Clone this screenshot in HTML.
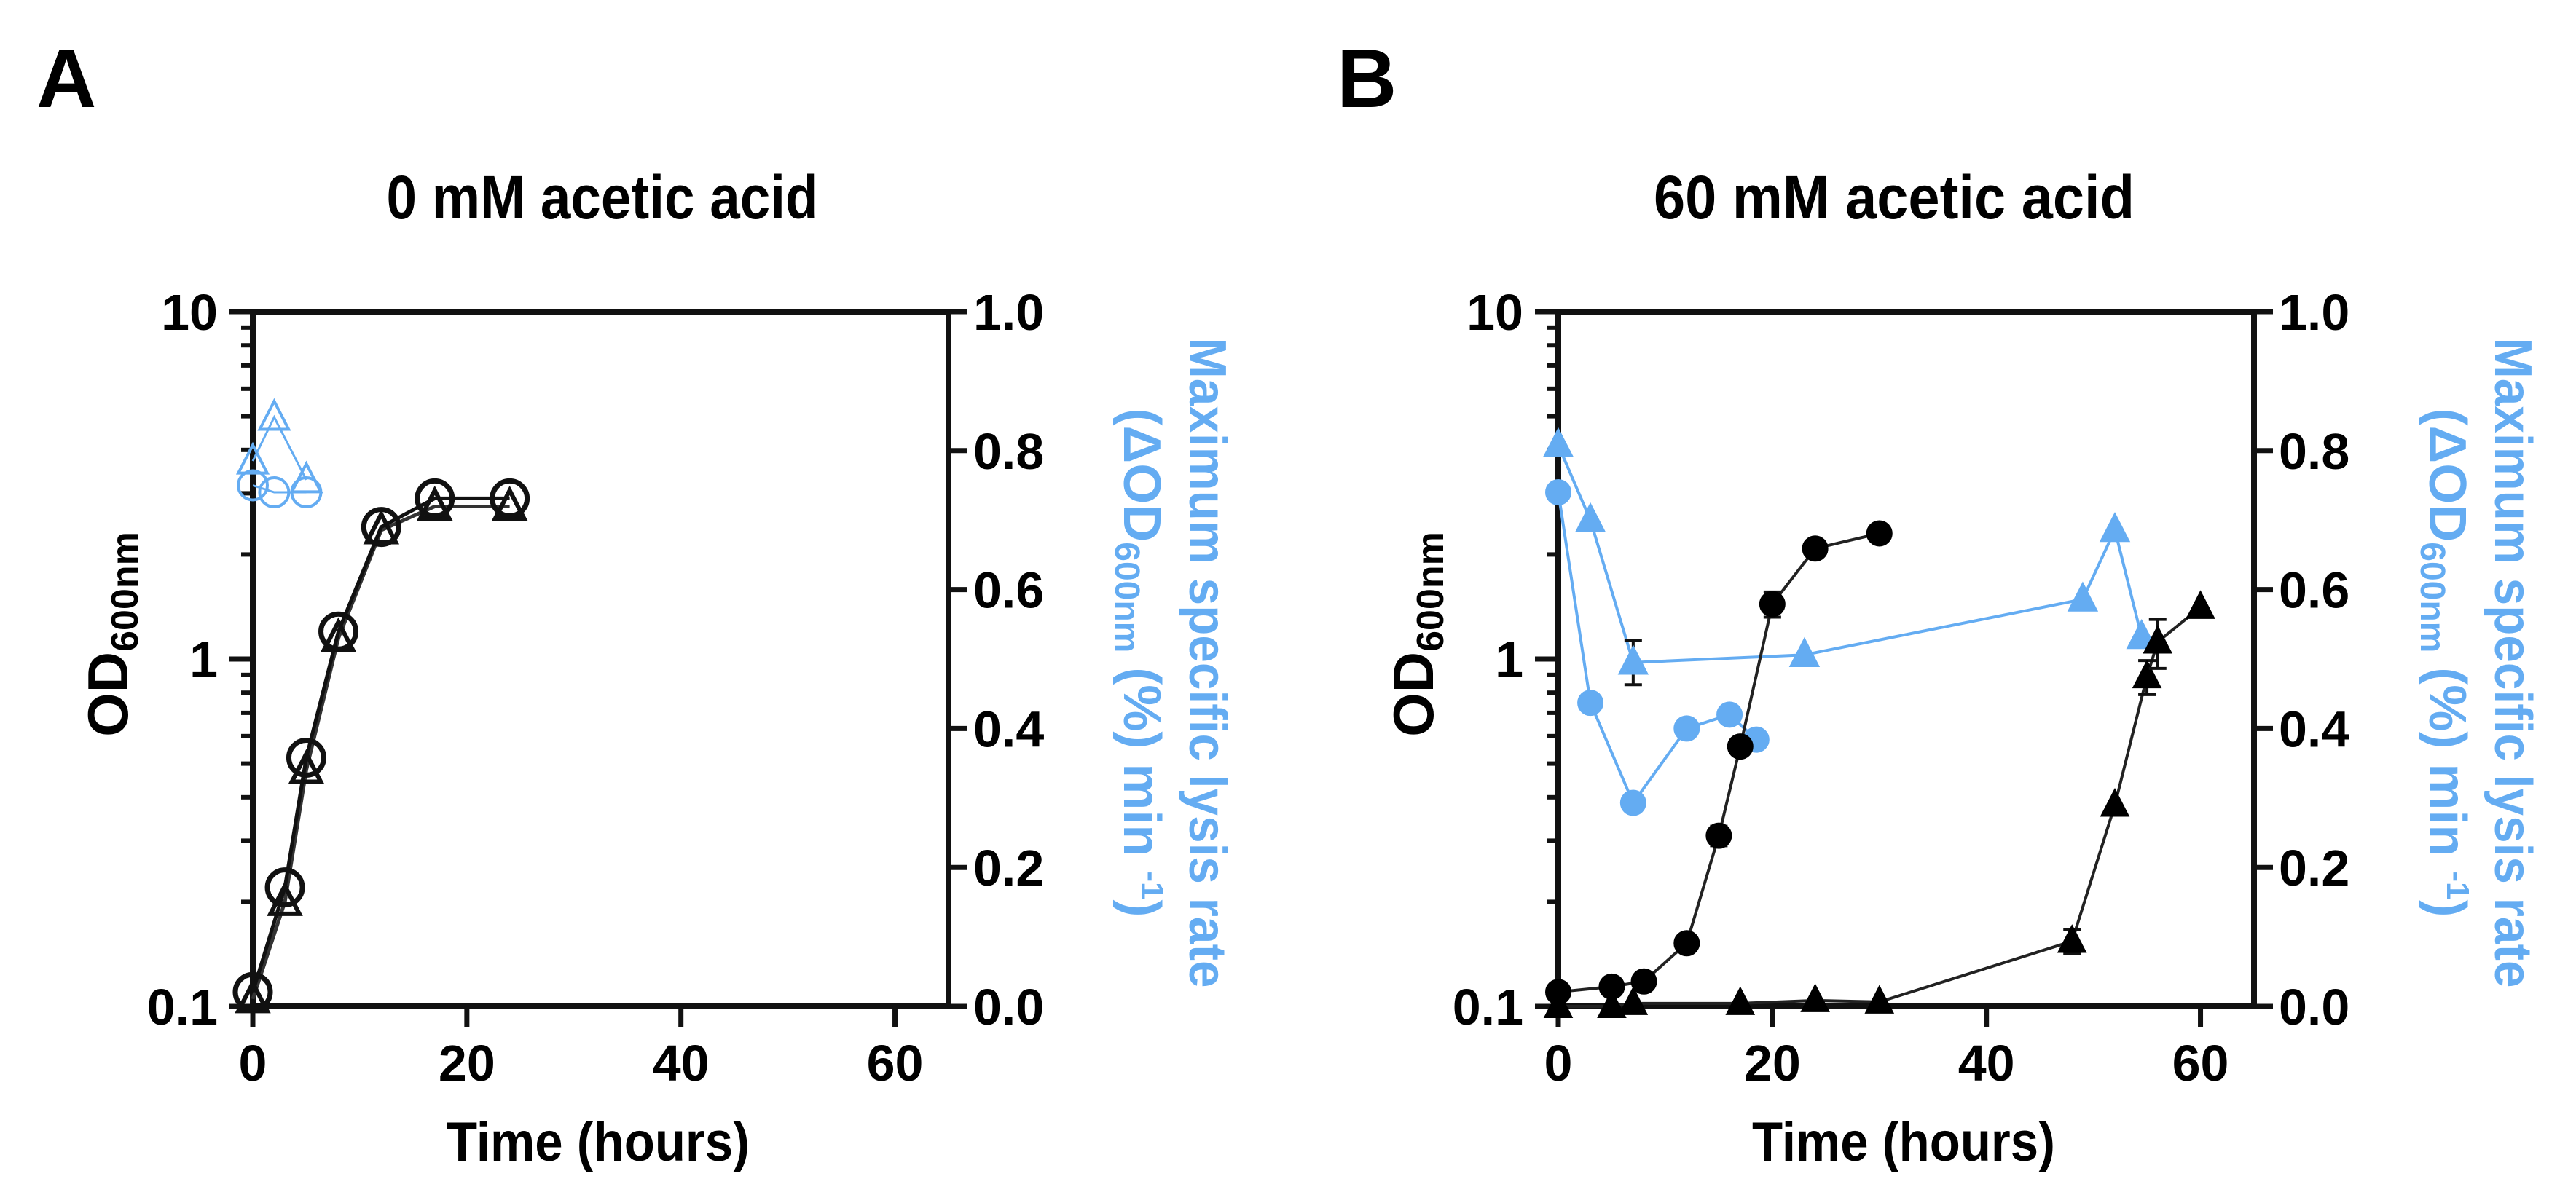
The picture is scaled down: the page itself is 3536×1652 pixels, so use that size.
<!DOCTYPE html>
<html><head><meta charset="utf-8"><style>
html,body{margin:0;padding:0;background:#fff;}
svg{display:block;font-family:"Liberation Sans",Arial,sans-serif;font-weight:bold;}
</style></head><body>
<svg id="fig" width="3536" height="1652" viewBox="0 0 3536 1652" xmlns="http://www.w3.org/2000/svg">
<rect x="0" y="0" width="3536" height="1652" fill="#fff"/>
<text x="50" y="147" font-size="114">A</text>
<text x="1835" y="147" font-size="114">B</text>
<text x="827" y="300" font-size="84" text-anchor="middle" textLength="593" lengthAdjust="spacingAndGlyphs">0 mM acetic acid</text>
<text x="2600" y="300" font-size="84" text-anchor="middle" textLength="660" lengthAdjust="spacingAndGlyphs">60 mM acetic acid</text>
</svg>
<script>
// Panel A data (OD600 on left log axis; lysis rate on right axis)
const aHours = [0, 3, 5, 8, 12, 17, 24];
const aCircleOD = [0.11, 0.22, 0.52, 1.2, 2.4, 2.9, 2.9];
const aTriangleOD = [0.105, 0.2, 0.48, 1.15, 2.35, 2.75, 2.75];
const aLysisHours = [0, 2, 5];
const aLysisCircle = [0.75, 0.74, 0.74];
const aLysisTriangle = [0.785, 0.848, 0.758];
// Panel B data
const bCircleHours = [0, 5, 8, 12, 15, 17, 20, 24, 30];
const bCircleOD = [0.11, 0.114, 0.118, 0.152, 0.31, 0.56, 1.44, 2.08, 2.3];
const bCircleErr = [0, 0, 0, 0, 0.02, 0, 0.12, 0, 0];
const bTriHours = [0, 5, 7, 17, 24, 30, 48, 52, 55, 56, 60];
const bTriOD = [0.1, 0.1, 0.102, 0.102, 0.104, 0.103, 0.154, 0.38, 0.89, 1.12, 1.41];
const bTriErr = [0, 0, 0, 0, 0, 0, 0.012, 0, 0.1, 0.18, 0];
const bLysisCircleHours = [0, 3, 7, 12, 16, 18.5];
const bLysisCircle = [0.74, 0.437, 0.293, 0.40, 0.42, 0.384];
const bLysisTriHours = [0, 3, 7, 23, 49, 52, 54.5];
const bLysisTri = [0.808, 0.70, 0.495, 0.506, 0.586, 0.686, 0.532];
const bLysisTriErr = [0, 0, 0.032, 0, 0, 0, 0];
const xTicks = [0, 20, 40, 60];
const leftTicks = [0.1, 1, 10];
const leftTickLabels = ["0.1", "1", "10"];
const rightTicks = [0, 0.2, 0.4, 0.6, 0.8, 1.0];
const rightTickLabels = ["0.0", "0.2", "0.4", "0.6", "0.8", "1.0"];

const NS = "http://www.w3.org/2000/svg";
const svg = document.getElementById("fig");
const BLUE = "#64acf2";
function mk(tag, attrs, parent) {
  const e = document.createElementNS(NS, tag);
  for (const k in attrs) e.setAttribute(k, attrs[k]);
  (parent || svg).appendChild(e);
  return e;
}

function panel(ox, key) {
  const L = ox, R = ox + 955, T = 428, B = 1382;
  const g = mk("g", {});
  
  
  const x = h => L + (h / 65) * (R - L);
  const yl = v => B - (Math.log10(v) + 1) / 2 * (B - T);
  const yr = v => B - v * (B - T);
  const ax = mk("path", {d: `M${L},${T} H${R} V${B} H${L} Z`, fill: "none", stroke: "#111", "stroke-width": 8}, g);
  
  
  xTicks.forEach(t => {
    const tk = mk("line", {x1: x(t), x2: x(t), y1: B, y2: B + 28, stroke: "#111", "stroke-width": 7}, g);
    
    
    const lb = mk("text", {x: x(t), y: 1484, "font-size": 70, "text-anchor": "middle"}, g);
    lb.textContent = t;
    
    
  });
  for (let d = 0.1; d < 10; d *= 10) {
    for (let m = 2; m <= 9; m++) {
      const v = d * m;
      const tk = mk("line", {x1: L - 16, x2: L, y1: yl(v), y2: yl(v), stroke: "#111", "stroke-width": 6}, g);
      
      
    }
  }
  leftTicks.forEach((t, i) => {
    const tk = mk("line", {x1: L - 32, x2: L, y1: yl(t), y2: yl(t), stroke: "#111", "stroke-width": 7}, g);
    
    
    const lb = mk("text", {x: L - 48, y: yl(t) + 25, "font-size": 70, "text-anchor": "end"}, g);
    lb.textContent = leftTickLabels[i];
    
    
  });
  rightTicks.forEach((t, i) => {
    const tk = mk("line", {x1: R, x2: R + 26, y1: yr(t), y2: yr(t), stroke: "#111", "stroke-width": 7}, g);
    
    
    const lb = mk("text", {x: R + 34, y: yr(t) + 25, "font-size": 70}, g);
    lb.textContent = rightTickLabels[i];
    
    
  });
  const xt = mk("text", {x: L + 474, y: 1594, "font-size": 76, "text-anchor": "middle", textLength: 416, lengthAdjust: "spacingAndGlyphs"}, g);
  xt.textContent = "Time (hours)";
  
  
  const yt = mk("text", {x: 0, y: 0, "font-size": 78, "text-anchor": "middle", transform: `translate(${L - 172},871) rotate(-90)`}, g);
  
  
  yt.innerHTML = 'OD<tspan font-size="52" dy="14">600nm</tspan>';
  const r1 = mk("text", {x: 0, y: 0, "font-size": 72, "text-anchor": "middle", fill: BLUE, textLength: 893, lengthAdjust: "spacingAndGlyphs", transform: `translate(${L + 1286},910) rotate(90)`}, g);
  r1.textContent = "Maximum specific lysis rate";
  
  
  const r2 = mk("text", {x: 0, y: 0, "font-size": 72, "text-anchor": "middle", fill: BLUE, transform: `translate(${L + 1196},910) rotate(90)`}, g);
  
  
  r2.innerHTML = '(ΔOD<tspan font-size="48" dy="12">600nm</tspan><tspan dy="-12"> (%) min </tspan><tspan font-size="44" dy="-24">-1</tspan><tspan dy="24">)</tspan>';
  return {g, x, yl, yr};
}

function line(g, xs, ys, fx, fy, color, w, name) {
  const d = xs.map((h, i) => (i ? "L" : "M") + fx(h) + "," + fy(ys[i])).join(" ");
  const p = mk("path", {d, fill: "none", stroke: color, "stroke-width": w}, g);
  
  
}
function circle(g, cx, cy, r, fill, stroke, name, sw) {
  const c = mk("circle", {cx, cy, r, fill, stroke, "stroke-width": sw || 6}, g);
  
  
}
function tri(g, cx, cy, s, fill, stroke, name, sw) {
  const p = mk("polygon", {points: `${cx},${cy - s} ${cx - s * 0.9},${cy + s * 0.75} ${cx + s * 0.9},${cy + s * 0.75}`, fill, stroke, "stroke-width": sw || 5}, g);
  
  
}
function errbar(g, cx, y1, y2, color, name) {
  const p = mk("path", {d: `M${cx},${y1} V${y2} M${cx - 12},${y1} H${cx + 12} M${cx - 12},${y2} H${cx + 12}`, stroke: color, "stroke-width": 4, fill: "none"}, g);
  
  
}

// Panel A
const A = panel(347, "a");
line(A.g, aLysisHours, aLysisTriangle, A.x, A.yr, BLUE, 3, "lysis-line-triangle");
line(A.g, aLysisHours, aLysisCircle, A.x, A.yr, BLUE, 3, "lysis-line-circle");
aLysisHours.forEach((h, i) => {
  circle(A.g, A.x(h), A.yr(aLysisCircle[i]), 20, "none", BLUE, "lysis-point-circle", 4);
  tri(A.g, A.x(h), A.yr(aLysisTriangle[i]), 22, "none", BLUE, "lysis-point-triangle", 4);
});
line(A.g, aHours, aTriangleOD, A.x, A.yl, "#333", 5, "od-line-triangle");
line(A.g, aHours, aCircleOD, A.x, A.yl, "#111", 5, "od-line-circle");
aHours.forEach((h, i) => {
  tri(A.g, A.x(h), A.yl(aTriangleOD[i]), 22, "none", "#111", "od-point-triangle", 6);
  circle(A.g, A.x(h), A.yl(aCircleOD[i]), 24, "none", "#111", "od-point-circle", 7);
});

// Panel B
const Bp = panel(2139, "b");
line(Bp.g, bLysisTriHours, bLysisTri, Bp.x, Bp.yr, BLUE, 4, "lysis-line-triangle");
line(Bp.g, bLysisCircleHours, bLysisCircle, Bp.x, Bp.yr, BLUE, 4, "lysis-line-circle");
bLysisTriHours.forEach((h, i) => {
  if (bLysisTriErr[i]) errbar(Bp.g, Bp.x(h), Bp.yr(bLysisTri[i] + bLysisTriErr[i]), Bp.yr(bLysisTri[i] - bLysisTriErr[i]), "#111", "lysis-error-bar");
  tri(Bp.g, Bp.x(h), Bp.yr(bLysisTri[i]), 19, BLUE, BLUE, "lysis-point-triangle");
});
bLysisCircleHours.forEach((h, i) => circle(Bp.g, Bp.x(h), Bp.yr(bLysisCircle[i]), 15, BLUE, BLUE, "lysis-point-circle"));
line(Bp.g, bTriHours, bTriOD, Bp.x, Bp.yl, "#222", 4, "od-line-triangle");
line(Bp.g, bCircleHours, bCircleOD, Bp.x, Bp.yl, "#222", 4, "od-line-circle");
bTriHours.forEach((h, i) => {
  if (bTriErr[i]) errbar(Bp.g, Bp.x(h), Bp.yl(bTriOD[i] + bTriErr[i]), Bp.yl(bTriOD[i] - bTriErr[i]), "#111", "od-error-bar");
  tri(Bp.g, Bp.x(h), Bp.yl(bTriOD[i]), 18, "#000", "#000", "od-point-triangle");
});
bCircleHours.forEach((h, i) => {
  if (bCircleErr[i]) errbar(Bp.g, Bp.x(h), Bp.yl(bCircleOD[i] + bCircleErr[i]), Bp.yl(bCircleOD[i] - bCircleErr[i]), "#111", "od-error-bar");
  circle(Bp.g, Bp.x(h), Bp.yl(bCircleOD[i]), 15, "#000", "#000", "od-point-circle");
});
</script>
</body></html>
